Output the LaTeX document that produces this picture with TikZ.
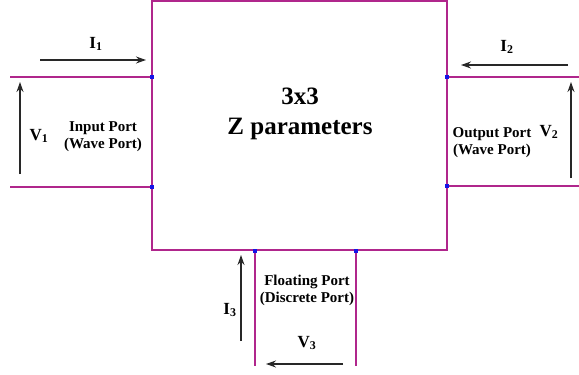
\documentclass[tikz,border=0pt]{standalone}
\usepackage{fontspec}
\setmainfont{Liberation Serif}
\usepackage{tikz}
\usetikzlibrary{positioning,calc,arrows.meta}

\definecolor{portline}{RGB}{176,38,140}
\definecolor{termblue}{RGB}{20,20,230}
\definecolor{arrowgray}{RGB}{40,40,40}

\begin{document}
\begin{tikzpicture}[x=1pt,y=-1pt]
            \tikzset{
                port/.style={
                    portline,
                    line width=1.3pt
                }
            }
            \tikzset{
                term/.style={
                    fill=termblue,
                    inner sep=0pt,
                    minimum size=3.5pt
                }
            }
            \tikzset{
                flow/.style={
                    arrowgray,
                    line width=1.2pt,
                    -{Stealth[length=10pt,width=7pt]}
                }
            }
            \tikzset{
                lbl/.style={
                    font=\fontsize{15}{17}\selectfont\bfseries,
                    align=center,
                    inner sep=0pt
                }
            }
            \tikzset{
                sym/.style={
                    font=\fontsize{17}{19}\selectfont\bfseries,
                    inner sep=0pt
                }
            }
            \useasboundingbox (0,0) rectangle (579,375);

            % the network block
            \coordinate (NW) at (152,1);
            \coordinate (SE) at (447,250);
            \draw[port] (NW) rectangle (SE);
            \node[font=\fontsize{25}{30}\selectfont\bfseries,align=center] (Z) at (300,114) {3x3\\Z parameters};

            % terminals
            \node[term] (T1a) at (152,77) {};
            \node[term] (T1b) at (152,187) {};
            \node[term] (T2a) at (447,77) {};
            \node[term] (T2b) at (447,186) {};
            \node[term] (T3a) at (255,251) {};
            \node[term] (T3b) at (356,251) {};

            \coordinate (E1a) at (10,77);
            \coordinate (E1b) at (10,187);
            \coordinate (E2a) at (579,77);
            \coordinate (E2b) at (579,186);
            \coordinate (E3a) at (255,366);
            \coordinate (E3b) at (356,366);

            \draw[port] (E1a) -- (T1a);
            \draw[port] (E1b) -- (T1b);
            \draw[port] (T2a) -- (E2a);
            \draw[port] (T2b) -- (E2b);
            \draw[port] (T3a) -- (E3a);
            \draw[port] (T3b) -- (E3b);

            % input port
            \coordinate (I1s) at (40,60);
            \coordinate (I1e) at (146,60);
            \draw[flow] (I1s) -- (I1e);
            \node[sym] (I1) at (96,44) {I\textsubscript{1}};
            \coordinate (V1s) at (20,174);
            \coordinate (V1e) at (20,82);
            \draw[flow] (V1s) -- (V1e);
            \node[sym] (V1) at (39,136) {V\textsubscript{1}};
            \node[lbl] (P1) at (103,137) {Input Port\\(Wave Port)};

            % output port
            \coordinate (I2s) at (568,65);
            \coordinate (I2e) at (461,65);
            \draw[flow] (I2s) -- (I2e);
            \node[sym] (I2) at (507,47) {I\textsubscript{2}};
            \coordinate (V2s) at (571,178);
            \coordinate (V2e) at (571,82);
            \draw[flow] (V2s) -- (V2e);
            \node[sym] (V2) at (549,132) {V\textsubscript{2}};
            \node[lbl] (P2) at (492,143) {Output Port\\(Wave Port)};

            % floating port
            \coordinate (I3s) at (241,341);
            \coordinate (I3e) at (241,255);
            \draw[flow] (I3s) -- (I3e);
            \node[sym] (I3) at (230,310) {I\textsubscript{3}};
            \coordinate (V3s) at (343,364);
            \coordinate (V3e) at (266,364);
            \draw[flow] (V3s) -- (V3e);
            \node[sym] (V3) at (307,343) {V\textsubscript{3}};
            \node[lbl] (P3) at (307,290) {Floating Port\\(Discrete Port)};
        \end{tikzpicture}
\end{document}
